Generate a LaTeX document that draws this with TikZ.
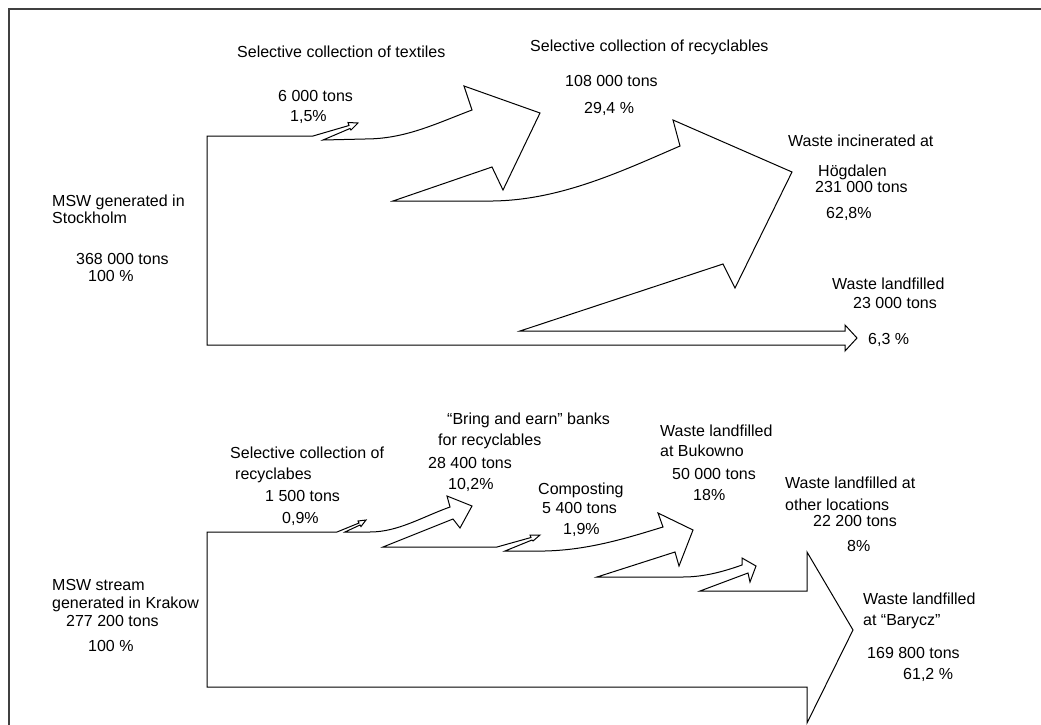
\documentclass[tikz,border=0pt]{standalone}
\usepackage{fontspec}
\setmainfont{Liberation Sans}
\begin{document}
\begin{tikzpicture}[x=1pt,y=-1pt,
  lbl/.style={anchor=base west,inner sep=0pt,font=\fontsize{16}{19}\selectfont},
  flow/.style={line width=1pt,line join=miter,miter limit=20},
  framebox/.style={line width=1.8pt,black!75}]
\useasboundingbox (0,0) rectangle (1041,725);
\draw[framebox] (9,725) -- (9,9) -- (1041,9);

% ---------- Stockholm ----------
\coordinate (sTL) at (207,136);
\coordinate (sBL) at (207,345);
\draw[flow] (323,140) -- (365,139)
  .. controls (405,139) and (435,124) .. (472,110) -- (464,86) -- (540,113)
  -- (503,190) -- (492,167) -- (393,201) -- (493,201)
  .. controls (560,200) and (620,172) .. (680,146) -- (673,120) -- (792,172)
  -- (735,288) -- (723,264) -- (520,331) -- (845,331) -- (845,325) -- (857,338)
  -- (845,351) -- (845,345) -- (sBL) -- (sTL) -- (313,136)
  -- (349,125.5) -- (348,122.5) -- (358,123) -- (351,130) -- (350,128.5) -- cycle;

\node[lbl] (t1) at (237,58) {Selective collection of textiles};
\node[lbl] (t2) at (530,52) {Selective collection of recyclables};
\node[lbl] (t3) at (278,101) {6 000 tons};
\node[lbl] (t4) at (290,121) {1,5\%};
\node[lbl] (r1) at (565,86) {108 000 tons};
\node[lbl] (r2) at (584,113) {29,4 \%};
\node[lbl] (i1) at (788,146) {Waste incinerated at};
\node[lbl] (i2) at (818,176) {Högdalen};
\node[lbl] (i3) at (815,192) {231 000 tons};
\node[lbl] (i4) at (826,218) {62,8\%};
\node[lbl] (l1) at (832,289) {Waste landfilled};
\node[lbl] (l2) at (853,308) {23 000 tons};
\node[lbl] (l3) at (868,344) {6,3 \%};
\node[lbl] (s1) at (52,206) {MSW generated in};
\node[lbl] (s2) at (52,223) {Stockholm};
\node[lbl] (s3) at (76,264) {368 000 tons};
\node[lbl] (s4) at (88,281) {100 \%};

% ---------- Krakow ----------
\coordinate (kTL) at (207,532);
\coordinate (kBL) at (207,687);
\draw[flow] (345,532) -- (370,532)
  .. controls (398,532) and (422,517) .. (450,507) -- (447,496) -- (472,506)
  -- (460,528) -- (453,519) -- (383,547) -- (497,547)
  -- (531,537.5) -- (530,535) -- (540,535) -- (533,541) -- (532,540) -- (505,551)
  -- (545,551) .. controls (590,550) and (630,537) .. (663,527) -- (658,513)
  -- (693,530) -- (679,566) -- (675,552) -- (597,577) -- (683,577)
  .. controls (705,577) and (725,571) .. (742,565) -- (742,558) -- (756,566)
  -- (750,582) -- (748,573) -- (700,591) -- (807,591) -- (807,552) -- (853,630)
  -- (807,723) -- (807,687) -- (kBL) -- (kTL) -- (337,532)
  -- (359,523) -- (358,521) -- (366,520) -- (361,526.5) -- (360,525) -- cycle;

\node[lbl] (c1) at (230,458) {Selective collection of};
\node[lbl] (c2) at (235,479) {recyclabes};
\node[lbl] (c3) at (265,501) {1 500 tons};
\node[lbl] (c4) at (282,523) {0,9\%};
\node[lbl] (b1) at (447,424) {“Bring and earn” banks};
\node[lbl] (b2) at (438,445) {for recyclables};
\node[lbl] (b3) at (428,468) {28 400 tons};
\node[lbl] (b4) at (448,489) {10,2\%};
\node[lbl] (p1) at (538,494) {Composting};
\node[lbl] (p2) at (542,513) {5 400 tons};
\node[lbl] (p3) at (563,534) {1,9\%};
\node[lbl] (u1) at (660,436) {Waste landfilled};
\node[lbl] (u2) at (660,456) {at Bukowno};
\node[lbl] (u3) at (672,479) {50 000 tons};
\node[lbl] (u4) at (693,500) {18\%};
\node[lbl] (o1) at (785,488) {Waste landfilled at};
\node[lbl] (o2) at (785,510) {other locations};
\node[lbl] (o3) at (813,526) {22 200 tons};
\node[lbl] (o4) at (847,551) {8\%};
\node[lbl] (y1) at (863,604) {Waste landfilled};
\node[lbl] (y2) at (863,625) {at “Barycz”};
\node[lbl] (y3) at (867,658) {169 800 tons};
\node[lbl] (y4) at (903,679) {61,2 \%};
\node[lbl] (k1) at (52,590) {MSW stream};
\node[lbl] (k2) at (52,608) {generated in Krakow};
\node[lbl] (k3) at (66,626) {277 200 tons};
\node[lbl] (k4) at (88,651) {100 \%};
\end{tikzpicture}
\end{document}
